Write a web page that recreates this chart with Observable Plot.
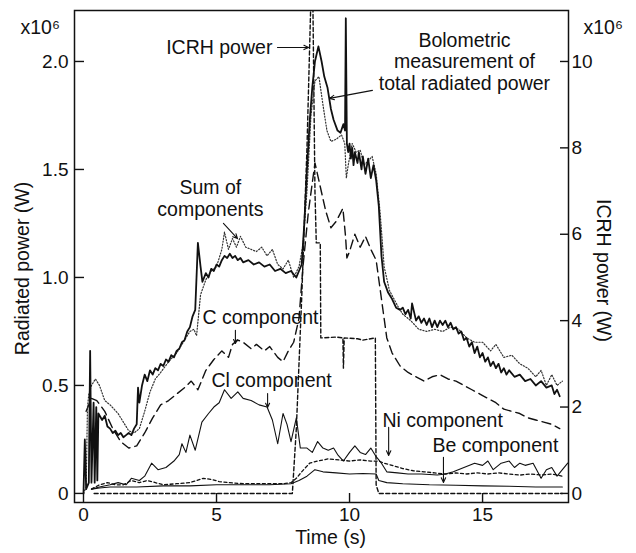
<!DOCTYPE html>
<html><head><meta charset="utf-8">
<script src="https://cdn.jsdelivr.net/npm/d3@7"></script>
<script src="https://cdn.jsdelivr.net/npm/@observablehq/plot@0.6"></script>
<style>body{margin:0;background:#fff}</style>
</head><body><div id="chart"></div>
<script>
// ---- data: [time (s), radiated power (x1e6 W)] ----
const bolometric = [
[0,0],[0.05,0.25],[0.1,0.02],[0.2,0.05],[0.25,0.66],[0.3,0.05],[0.38,0.42],[0.42,0.05],[0.48,0.40],[0.52,0.06],[0.56,0.37],
[0.7,0.34],[0.8,0.36],[0.9,0.31],[1.0,0.30],[1.1,0.28],[1.2,0.29],[1.3,0.27],[1.4,0.28],[1.5,0.26],[1.6,0.27],[1.7,0.28],[1.8,0.27],[1.9,0.30],[2.0,0.32],
[2.05,0.49],[2.1,0.42],[2.2,0.50],[2.3,0.55],[2.4,0.52],[2.5,0.57],[2.6,0.55],[2.7,0.58],[2.8,0.57],[2.9,0.60],[3.0,0.59],[3.1,0.62],[3.2,0.61],[3.3,0.64],
[3.4,0.63],[3.5,0.66],[3.6,0.67],[3.7,0.70],[3.8,0.71],[3.9,0.75],[4.0,0.77],[4.1,0.82],[4.2,0.85],[4.3,1.16],[4.4,1.05],[4.47,0.98],[4.6,1.02],[4.7,1.00],
[4.8,1.04],[4.9,1.03],[5.0,1.06],[5.1,1.05],[5.2,1.08],[5.3,1.10],[5.4,1.09],[5.5,1.11],[5.6,1.09],[5.7,1.10],[5.8,1.08],[5.9,1.09],[6.0,1.07],[6.2,1.08],
[6.4,1.06],[6.6,1.07],[6.8,1.05],[7.0,1.06],[7.2,1.03],[7.4,1.04],[7.6,1.02],[7.8,1.03],[8.0,1.00],[8.1,1.03],[8.2,1.06],[8.3,1.25],[8.4,1.50],[8.5,1.72],
[8.6,1.88],[8.7,2.00],[8.83,2.07],[8.95,2.00],[9.05,1.93],[9.17,1.88],[9.3,1.78],[9.4,1.73],[9.55,1.68],[9.66,1.67],[9.77,1.71],[9.83,1.68],[9.86,2.2],
[9.9,1.62],[9.95,1.58],[10.0,1.62],[10.05,1.55],[10.1,1.60],[10.15,1.52],[10.2,1.58],[10.3,1.53],[10.35,1.58],[10.45,1.50],[10.5,1.56],[10.6,1.48],
[10.7,1.55],[10.8,1.46],[10.9,1.52],[11.0,1.45],[11.1,1.33],[11.2,1.10],[11.3,0.98],[11.45,0.93],[11.6,0.90],[11.75,0.86],[11.9,0.85],[12.0,0.86],
[12.1,0.83],[12.2,0.85],[12.3,0.81],[12.35,0.88],[12.5,0.80],[12.6,0.82],[12.7,0.79],[12.8,0.81],[12.9,0.78],[13.0,0.81],[13.1,0.77],[13.2,0.80],[13.3,0.77],
[13.4,0.80],[13.5,0.78],[13.6,0.80],[13.7,0.77],[13.8,0.79],[13.9,0.76],[14.0,0.77],[14.1,0.74],[14.2,0.75],[14.3,0.71],[14.4,0.72],[14.5,0.68],[14.6,0.70],
[14.7,0.65],[14.8,0.68],[14.9,0.63],[15.0,0.65],[15.1,0.61],[15.2,0.63],[15.3,0.59],[15.4,0.61],[15.5,0.58],[15.6,0.60],[15.7,0.56],[15.8,0.58],[15.9,0.55],
[16.0,0.57],[16.2,0.54],[16.4,0.55],[16.6,0.52],[16.8,0.53],[17.0,0.50],[17.2,0.52],[17.4,0.49],[17.6,0.50],[17.7,0.46],[17.8,0.48],[17.9,0.45]
];
const sumOfComponents = [
[0,0],[0.1,0.03],[0.15,0.40],[0.2,0.46],[0.3,0.50],[0.45,0.53],[0.6,0.50],[0.8,0.43],[1.0,0.41],[1.3,0.37],[1.5,0.33],[1.7,0.29],[1.9,0.28],[2.1,0.30],
[2.3,0.38],[2.5,0.47],[2.7,0.53],[2.9,0.56],[3.2,0.61],[3.5,0.65],[3.8,0.71],[4.0,0.75],[4.15,0.76],[4.25,0.73],[4.4,0.92],[4.6,0.99],[4.8,1.03],[5.0,1.05],
[5.2,1.13],[5.3,1.21],[5.45,1.13],[5.6,1.18],[5.75,1.14],[5.9,1.19],[6.1,1.14],[6.3,1.13],[6.5,1.12],[6.7,1.14],[6.9,1.10],[7.1,1.13],[7.3,1.06],[7.5,1.04],
[7.7,1.08],[7.9,1.00],[8.1,1.05],[8.25,1.15],[8.4,1.40],[8.55,1.75],[8.7,1.91],[8.85,1.93],[9.0,1.80],[9.15,1.68],[9.3,1.63],[9.5,1.64],[9.7,1.66],[9.82,1.62],
[9.88,1.46],[9.95,1.52],[10.1,1.62],[10.25,1.58],[10.4,1.59],[10.55,1.52],[10.7,1.54],[10.85,1.56],[11.0,1.48],[11.15,1.30],[11.3,1.05],[11.5,0.94],[11.8,0.87],
[12.0,0.83],[12.3,0.80],[12.6,0.76],[12.9,0.75],[13.2,0.76],[13.5,0.75],[13.8,0.77],[14.1,0.76],[14.4,0.72],[14.7,0.70],[15.0,0.70],[15.3,0.66],[15.5,0.69],
[15.8,0.63],[16.1,0.64],[16.4,0.60],[16.7,0.58],[17.0,0.54],[17.2,0.57],[17.4,0.50],[17.6,0.55],[17.8,0.50],[18.0,0.52]
];
const cComponent = [
[0.1,0.38],[0.3,0.44],[0.5,0.43],[0.8,0.38],[1.1,0.30],[1.4,0.24],[1.7,0.21],[2.0,0.22],[2.3,0.28],[2.6,0.35],[2.9,0.41],[3.2,0.43],[3.5,0.46],[3.8,0.49],
[4.05,0.52],[4.3,0.48],[4.6,0.57],[4.9,0.62],[5.2,0.66],[5.45,0.63],[5.6,0.69],[5.8,0.71],[6.0,0.70],[6.3,0.67],[6.5,0.69],[6.8,0.66],[7.0,0.68],[7.3,0.63],
[7.5,0.61],[7.7,0.66],[7.9,0.70],[8.1,0.81],[8.25,1.05],[8.45,1.30],[8.7,1.53],[8.9,1.42],[9.1,1.31],[9.3,1.23],[9.5,1.26],[9.75,1.32],[9.85,1.19],[9.9,1.09],
[10.0,1.12],[10.2,1.20],[10.4,1.14],[10.6,1.19],[10.8,1.13],[11.0,1.08],[11.2,0.90],[11.4,0.72],[11.6,0.65],[11.9,0.59],[12.2,0.56],[12.5,0.54],[12.8,0.52],
[13.1,0.54],[13.4,0.55],[13.7,0.53],[14.0,0.52],[14.3,0.50],[14.6,0.48],[14.9,0.46],[15.2,0.44],[15.5,0.42],[15.8,0.39],[16.1,0.38],[16.4,0.37],[16.7,0.35],
[17.0,0.34],[17.3,0.33],[17.6,0.32],[17.9,0.30]
];
const clComponent = [
[0.3,0.02],[0.6,0.03],[1.0,0.04],[1.3,0.05],[1.6,0.04],[1.8,0.07],[2.1,0.06],[2.3,0.08],[2.56,0.14],[2.8,0.11],[3.1,0.12],[3.4,0.15],[3.6,0.18],[3.7,0.23],
[3.85,0.19],[4.0,0.27],[4.2,0.20],[4.45,0.33],[4.7,0.37],[4.9,0.40],[5.1,0.42],[5.3,0.48],[5.55,0.44],[5.8,0.47],[6.0,0.44],[6.3,0.43],[6.6,0.41],[6.9,0.40],
[7.1,0.34],[7.3,0.23],[7.5,0.37],[7.65,0.32],[7.8,0.24],[8.0,0.35],[8.15,0.21],[8.4,0.21],[8.6,0.19],[8.8,0.24],[9.0,0.21],[9.2,0.20],[9.4,0.21],[9.55,0.18],
[9.77,0.15],[10.0,0.19],[10.2,0.22],[10.4,0.19],[10.6,0.18],[10.8,0.21],[11.0,0.17],[11.2,0.14],[11.4,0.10],[11.8,0.095],[12.2,0.09],[12.7,0.09],[13.3,0.085],
[13.6,0.09],[13.9,0.10],[14.3,0.12],[14.7,0.14],[15.0,0.13],[15.2,0.15],[15.4,0.11],[15.7,0.14],[16.0,0.15],[16.2,0.12],[16.4,0.14],[16.6,0.13],[16.9,0.14],
[17.2,0.07],[17.4,0.11],[17.6,0.12],[17.8,0.08],[18.0,0.11],[18.2,0.14]
];
const niComponent = [
[0.3,0.02],[0.6,0.04],[0.9,0.05],[1.2,0.04],[1.5,0.04],[1.8,0.06],[2.1,0.05],[2.4,0.06],[2.7,0.05],[3.0,0.04],[3.5,0.045],[4.0,0.05],[4.5,0.07],[4.8,0.065],
[5.1,0.055],[5.5,0.05],[6.0,0.045],[6.5,0.045],[7.0,0.045],[7.5,0.045],[7.8,0.05],[8.0,0.07],[8.2,0.10],[8.5,0.14],[8.8,0.15],[9.2,0.16],[9.6,0.155],[10.0,0.15],
[10.4,0.155],[10.8,0.15],[11.1,0.15],[11.3,0.14],[11.6,0.13],[12.0,0.115],[12.4,0.105],[12.8,0.10],[13.2,0.095],[13.6,0.09],[14.0,0.095],[14.4,0.09],[14.8,0.095],
[15.2,0.09],[15.6,0.095],[16.0,0.09],[16.4,0.085],[16.8,0.09],[17.2,0.085],[17.6,0.09],[18.0,0.08]
];
const beComponent = [
[0.3,0.02],[0.6,0.025],[1.0,0.03],[2.0,0.03],[3.0,0.035],[4.0,0.035],[5.0,0.04],[6.0,0.04],[7.0,0.04],[7.8,0.045],[8.1,0.06],[8.4,0.08],[8.7,0.11],[9.0,0.10],
[9.5,0.095],[10.0,0.09],[10.5,0.092],[11.0,0.09],[11.1,0.06],[11.4,0.05],[12.0,0.045],[13.0,0.04],[14.0,0.038],[15.0,0.035],[16.0,0.033],[17.0,0.03],[18.0,0.03]
];
// ICRH power: [time (s), power (x1e6 W, right axis)]
const icrhPower = [
[0.4,0],[7.85,0],[8.0,1.5],[8.2,4.5],[8.4,8.0],[8.55,11.5],[8.62,11.5],[8.7,7.0],[8.75,5.8],[8.9,5.8],[8.92,3.6],[9.5,3.62],[9.75,3.6],[9.77,2.9],[9.8,3.6],
[10.3,3.58],[10.5,3.55],[10.97,3.6],[11.0,0.2],[11.1,0],[18.0,0]
];
const leftTicks = [0, 0.5, 1.0, 1.5, 2.0];
const rightTicks = [0, 2, 4, 6, 8, 10];
const xTicks = [0, 5, 10, 15];
const icrhPerLeftUnit = 5; // right axis: 10 x1e6 W aligns with 2.0 x1e6 W on left

const annotations = [
  {t: 7.1, v: 2.065, text: "ICRH power", anchor: "end"},
  {t: 14.32, v: 2.0, text: "Bolometric\nmeasurement of\ntotal radiated power", anchor: "middle"},
  {t: 4.77, v: 1.368, text: "Sum of\ncomponents", anchor: "middle"},
  {t: 4.47, v: 0.815, text: "C component", anchor: "start"},
  {t: 4.81, v: 0.523, text: "Cl component", anchor: "start"},
  {t: 11.24, v: 0.338, text: "Ni component", anchor: "start"},
  {t: 13.12, v: 0.222, text: "Be component", anchor: "start"}
];
const arrows = [
  {t1: 7.29, v1: 2.065, t2: 8.46, v2: 2.065},
  {t1: 10.86, v1: 1.866, t2: 9.25, v2: 1.829},
  {t1: 5.26, v1: 1.25, t2: 5.79, v2: 1.18},
  {t1: 5.71, v1: 0.755, t2: 5.71, v2: 0.694},
  {t1: 6.92, v1: 0.463, t2: 6.92, v2: 0.398},
  {t1: 11.47, v1: 0.306, t2: 11.47, v2: 0.176},
  {t1: 13.53, v1: 0.167, t2: 13.53, v2: 0.051}
];

const toObj = arr => arr.map(([t, v]) => ({t, v}));
const FONT = "'Liberation Sans', Arial, Helvetica, sans-serif";
const INK = "#111";

const chart = Plot.plot({
  width: 636, height: 553,
  marginLeft: 74, marginRight: 68, marginTop: 10, marginBottom: 51,
  x: {domain: [-0.338, 18.23], axis: null},
  y: {domain: [-0.042, 2.236], axis: null},
  style: {fontFamily: FONT, fontSize: "19px", background: "white", color: INK},
  marks: [
    // data lines
    Plot.line(toObj(icrhPower), {x: "t", y: d => d.v / icrhPerLeftUnit, stroke: INK, strokeWidth: 1.4, strokeDasharray: "4,2.5", clip: true}),
    Plot.line(toObj(beComponent), {x: "t", y: "v", stroke: INK, strokeWidth: 1.1}),
    Plot.line(toObj(niComponent), {x: "t", y: "v", stroke: INK, strokeWidth: 1.3, strokeDasharray: "3,2.5"}),
    Plot.line(toObj(clComponent), {x: "t", y: "v", stroke: INK, strokeWidth: 1.1}),
    Plot.line(toObj(cComponent), {x: "t", y: "v", stroke: INK, strokeWidth: 1.4, strokeDasharray: "9,5"}),
    Plot.line(toObj(sumOfComponents), {x: "t", y: "v", stroke: "#333", strokeWidth: 1.2, strokeDasharray: "1.2,1.8"}),
    Plot.line(toObj(bolometric), {x: "t", y: "v", stroke: INK, strokeWidth: 1.8}),
    Plot.frame({stroke: INK, strokeWidth: 1.5}),
    // axes (ticks inside)
    Plot.axisX(xTicks, {anchor: "bottom", tickSize: -9, fill: "none", stroke: INK, strokeWidth: 1.4, label: null}),
    Plot.axisX(xTicks, {anchor: "bottom", tickSize: 0, tickPadding: 5, fill: INK, label: null, fontSize: 19}),
    Plot.axisY(leftTicks, {anchor: "left", tickSize: -10, fill: "none", stroke: INK, strokeWidth: 1.4, label: null}),
    Plot.axisY(leftTicks, {anchor: "left", tickSize: 0, tickPadding: 6, fill: INK, label: null, fontSize: 19,
      tickFormat: d => d === 0 ? "0" : d.toFixed(1)}),
    Plot.axisY(rightTicks.map(d => d / icrhPerLeftUnit), {anchor: "right", tickSize: -9, fill: "none", stroke: INK, strokeWidth: 1.4, label: null}),
    Plot.axisY(rightTicks.map(d => d / icrhPerLeftUnit), {anchor: "right", tickSize: 0, tickPadding: 3, fill: INK, label: null, fontSize: 19,
      tickFormat: d => String(Math.round(d * icrhPerLeftUnit))}),
    // axis titles
    Plot.text(["Radiated power (W)"], {text: d => d, frameAnchor: "left", textAnchor: "middle", lineAnchor: "middle", dx: -52, dy: 12, rotate: -90, fontSize: 19.5, fill: INK}),
    Plot.text(["ICRH power (W)"], {text: d => d, frameAnchor: "right", textAnchor: "middle", lineAnchor: "middle", dx: 35, dy: 14, rotate: 90, fontSize: 19.5, fill: INK}),
    Plot.text(["Time (s)"], {text: d => d, frameAnchor: "bottom", textAnchor: "middle", lineAnchor: "middle", dx: 9, dy: 35, fontSize: 19.5, fill: INK}),
    Plot.text(["x10⁶"], {text: d => d, frameAnchor: "top-left", textAnchor: "start", lineAnchor: "middle", dx: -54, dy: 17, fontSize: 19.5, fill: INK}),
    Plot.text(["x10⁶"], {text: d => d, frameAnchor: "top-right", textAnchor: "start", lineAnchor: "middle", dx: 15, dy: 17, fontSize: 19.5, fill: INK}),
    // annotations
    ...annotations.map(a => Plot.text([a], {x: "t", y: "v", text: "text", textAnchor: a.anchor, lineAnchor: "middle", lineHeight: 1.12, fontSize: 19.5, fill: INK})),
    Plot.arrow(arrows, {x1: "t1", y1: "v1", x2: "t2", y2: "v2", stroke: INK, strokeWidth: 1.1, headLength: 7, headAngle: 50})
  ]
});
document.getElementById("chart").appendChild(chart);
</script>
</body></html>
